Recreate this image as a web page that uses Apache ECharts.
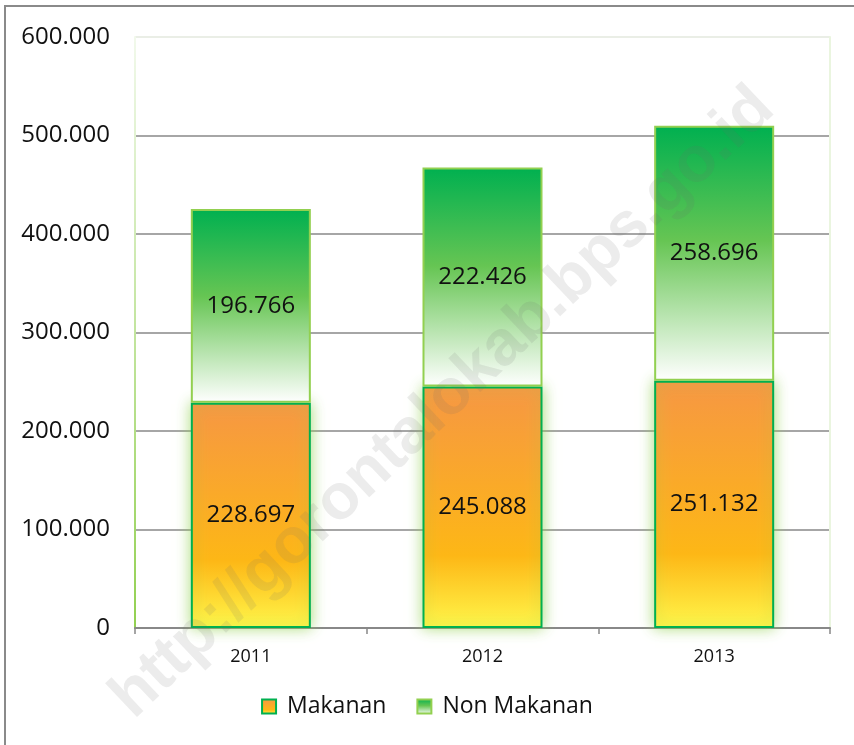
<!DOCTYPE html>
<html>
<head>
<meta charset="utf-8">
<script src="https://cdn.jsdelivr.net/npm/echarts@6/dist/echarts.min.js"></script>
<style>
html, body { margin: 0; padding: 0; background: #fff; }
#chart { width: 854px; height: 745px; }
</style>
</head>
<body>
<div id="chart"></div>
<script>
// pengeluaran per kapita: makanan vs non makanan
var years = ['2011', '2012', '2013'];
var makanan = [228697, 245088, 251132];
var nonMakanan = [196766, 222426, 258696];
var seriesNames = ['Makanan', 'Non Makanan'];

var font = '"Open Sans", "Noto Sans", sans-serif';

function fmt(v) {
    return String(Math.round(v)).replace(/\B(?=(\d{3})+(?!\d))/g, '.');
}

var dom = document.getElementById('chart');
var myChart = echarts.init(dom);
var option = {
    backgroundColor: '#fff',
    animation: false,
    textStyle: { fontFamily: font },
    grid: { left: 135, right: 24, top: 37, bottom: 117 },
    legend: {
        bottom: 22,
        left: 'center',
        icon: 'rect',
        itemWidth: 14,
        itemHeight: 14,
        itemGap: 30,
        textStyle: { fontSize: 23, color: '#111', fontFamily: font, padding: [0, 0, 0, 6] },
        data: seriesNames
    },
    xAxis: {
        type: 'category',
        data: years,
        axisLine: { lineStyle: { color: '#888', width: 2 } },
        axisTick: { show: true, length: 6, lineStyle: { color: '#888', width: 1.5 } },
        axisLabel: { fontSize: 18, color: '#111', margin: 20 }
    },
    yAxis: [
        {
            type: 'value',
            min: 0,
            max: 600000,
            interval: 100000,
            axisLine: {
                show: true,
                lineStyle: {
                    width: 2,
                    color: new echarts.graphic.LinearGradient(0, 0, 0, 1, [
                        { offset: 0, color: '#f2f9ec' },
                        { offset: 1, color: '#92d050' }
                    ])
                }
            },
            axisTick: { show: false },
            axisLabel: { fontSize: 24, color: '#111', margin: 25, formatter: fmt },
            splitLine: {
                lineStyle: {
                    width: 1.5,
                    color: ['#888', '#888', '#888', '#888', '#888', '#888', '#e3e8de']
                }
            }
        },
        {
            type: 'value',
            position: 'right',
            min: 0,
            max: 600000,
            interval: 100000,
            axisLine: { show: true, lineStyle: { width: 2, color: '#eaf5df' } },
            axisTick: { show: false },
            axisLabel: { show: false },
            splitLine: { show: false }
        }
    ],
    series: [
        {
            name: seriesNames[0],
            type: 'bar',
            stack: 'total',
            barWidth: 120,
            data: makanan,
            itemStyle: {
                color: new echarts.graphic.LinearGradient(0, 0, 0, 1, [
                    { offset: 0, color: '#f69743' },
                    { offset: 0.7, color: '#fdb716' },
                    { offset: 1, color: '#fff64a' }
                ]),
                borderColor: '#00b050',
                borderWidth: 2,
                shadowColor: 'rgba(146, 208, 80, 0.75)',
                shadowBlur: 14
            },
            label: {
                show: true,
                position: 'inside',
                fontSize: 24,
                color: '#111',
                fontFamily: font,
                formatter: function (p) { return fmt(p.value); }
            }
        },
        {
            name: seriesNames[1],
            type: 'bar',
            stack: 'total',
            barWidth: 120,
            data: nonMakanan,
            itemStyle: {
                color: new echarts.graphic.LinearGradient(0, 0, 0, 1, [
                    { offset: 0, color: '#00b050' },
                    { offset: 0.45, color: '#66c553' },
                    { offset: 1, color: '#ffffff' }
                ]),
                borderColor: '#92d050',
                borderWidth: 2
            },
            label: {
                show: true,
                position: 'inside',
                fontSize: 24,
                color: '#111',
                fontFamily: font,
                formatter: function (p) { return fmt(p.value); }
            }
        }
    ],
    graphic: [
        {
            type: 'rect',
            silent: true,
            shape: { x: 5, y: 6, width: 900, height: 800 },
            style: { fill: null, stroke: '#8a8a8a', lineWidth: 2 },
            z: 100
        },
        {
            type: 'text',
            silent: true,
            x: 443,
            y: 403,
            rotation: Math.PI / 4 * 0.965,
            style: {
                text: 'http://gorontalokab.bps.go.id',
                font: 'bold 64px "Liberation Sans", Arial, sans-serif',
                fill: 'rgba(110, 110, 110, 0.13)',
                align: 'center',
                verticalAlign: 'middle'
            },
            z: 100
        }
    ]
};
myChart.setOption(option);
</script>
</body>
</html>
